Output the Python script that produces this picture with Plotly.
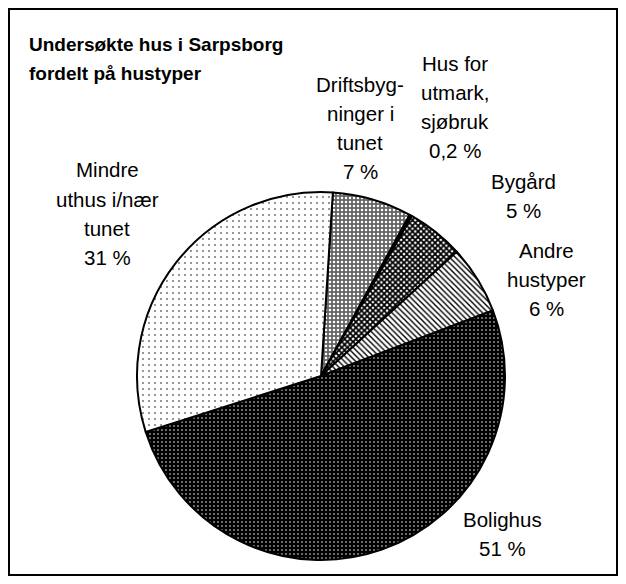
import plotly.graph_objects as go

# Data
categories = ["Driftsbygninger i tunet", "Hus for utmark, sjøbruk", "Bygård",
              "Andre hustyper", "Bolighus", "Mindre uthus i/nær tunet"]
values = [7, 0.2, 5, 6, 51, 31]
pct_labels = ["7 %", "0,2 %", "5 %", "6 %", "51 %", "31 %"]
label_lines = [
    ["Driftsbyg-", "ninger i", "tunet"],
    ["Hus for", "utmark,", "sjøbruk"],
    ["Bygård"],
    ["Andre", "hustyper"],
    ["Bolighus"],
    ["Mindre", "uthus i/nær", "tunet"],
]
title_lines = ["Undersøkte hus i Sarpsborg", "fordelt på hustyper"]

# page body has an 8px margin; figure fills the rest of the 626x584 window
OFF = 8
W, H = 626 - 2 * OFF, 584 - 2 * OFF

patterns = [
    dict(shape=".", fgcolor="#ffffff", bgcolor="#666666", size=4, solidity=0.3),
    dict(shape="", fgcolor="#000000", bgcolor="#000000"),
    dict(shape="x", fgcolor="#000000", bgcolor="#ffffff", size=4, solidity=0.7),
    dict(shape="\\", fgcolor="#000000", bgcolor="#ffffff", size=4, solidity=0.35),
    dict(shape=".", fgcolor="#ffffff", bgcolor="#000000", size=4, solidity=0.12),
    dict(shape=".", fgcolor="#666666", bgcolor="#ffffff", size=6, solidity=0.07),
]
colors = ["#777777", "#000000", "#444444", "#bbbbbb", "#111111", "#ffffff"]

def px(x):
    return (x - OFF) / W

def py(y):
    return 1 - (y - OFF) / H

cx, cy, r = 321, 376, 184
fig = go.Figure(go.Pie(
    labels=categories,
    values=values,
    sort=False,
    direction="clockwise",
    rotation=3.7,
    textinfo="none",
    hoverinfo="label+percent",
    marker=dict(colors=colors, line=dict(color="#000000", width=2),
                pattern=dict(shape=[p["shape"] for p in patterns],
                             fgcolor=[p["fgcolor"] for p in patterns],
                             bgcolor=[p["bgcolor"] for p in patterns],
                             size=[p.get("size", 4) for p in patterns],
                             solidity=[p.get("solidity", 0.5) for p in patterns])),
    domain=dict(x=[px(cx - r), px(cx + r)], y=[py(cy + r), py(cy - r)]),
    showlegend=False,
))

FONT = "Liberation Sans, Arial, sans-serif"
annotations = []

def add_line(text, x, y, size=20.5, bold=False, anchor="center"):
    annotations.append(dict(
        text=f"<b>{text}</b>" if bold else text,
        x=px(x), y=py(y), xref="paper", yref="paper",
        xanchor=anchor, yanchor="middle", showarrow=False,
        font=dict(family=FONT, size=size, color="#000000")))

# Title
add_line(title_lines[0], 27, 44, size=19, bold=True, anchor="left")
add_line(title_lines[1], 27, 73, size=19, bold=True, anchor="left")

# Slice labels: (center x, first line y) in window pixels
label_pos = [(360, 84), (455, 63), (523, 181), (546, 250), (502, 519), (107, 170)]
spacing = 29.3
for lines, pct, (lx, ly) in zip(label_lines, pct_labels, label_pos):
    for i, t in enumerate(lines + [pct]):
        add_line(t, lx, ly + i * spacing)

fig.update_layout(
    width=W, height=H,
    margin=dict(l=0, r=0, t=0, b=0),
    paper_bgcolor="#ffffff",
    plot_bgcolor="#ffffff",
    annotations=annotations,
    shapes=[dict(type="rect", xref="paper", yref="paper",
                 x0=1 / W, x1=1 - 1 / W, y0=1 / H, y1=1 - 1 / H,
                 line=dict(color="#000000", width=2))],
)

fig.write_html("out.html")
